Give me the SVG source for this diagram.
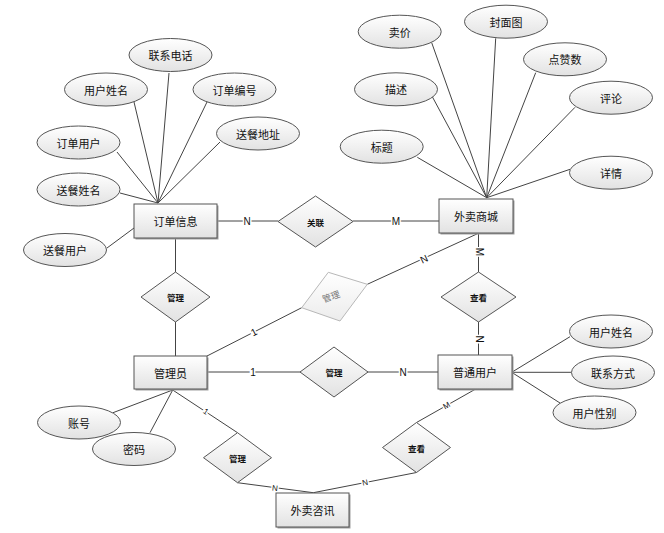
<svg xmlns="http://www.w3.org/2000/svg" width="664" height="533" viewBox="0 0 664 533">
<defs>
<linearGradient id="g" x1="0" y1="0" x2="0" y2="1">
<stop offset="0" stop-color="#ffffff"/>
<stop offset="1" stop-color="#e2e2e2"/>
</linearGradient>
<linearGradient id="gf" x1="0" y1="0" x2="0" y2="1">
<stop offset="0" stop-color="#ffffff"/>
<stop offset="1" stop-color="#ececec"/>
</linearGradient>
</defs>
<style>
.e{fill:url(#g);stroke:#555;stroke-width:1}
.r{fill:url(#g);stroke:#555;stroke-width:1}
.sh{fill:#a0a0a0}
.d{fill:url(#g);stroke:#555;stroke-width:1}
.df{fill:url(#gf);stroke:#b8b8b8;stroke-width:1}
.c line,.c polyline{stroke:#444;stroke-width:1;fill:none}
.t{font-family:"Noto Sans CJK SC","Liberation Sans",sans-serif;font-size:11px;fill:#111;text-anchor:middle;dominant-baseline:central}
.ts{font-family:"Noto Sans CJK SC","Liberation Sans",sans-serif;font-size:8.5px;font-weight:bold;fill:#111;text-anchor:middle;dominant-baseline:central}
.tf{font-family:"Noto Sans CJK SC","Liberation Sans",sans-serif;font-size:9px;fill:#777;text-anchor:middle;dominant-baseline:central}
.l{font-family:"Liberation Sans",sans-serif;font-size:10px;fill:#111;text-anchor:middle;dominant-baseline:central;stroke:#fff;stroke-width:3;paint-order:stroke}
.ls{font-family:"Liberation Sans",sans-serif;font-size:8px;fill:#111;text-anchor:middle;dominant-baseline:central;stroke:#fff;stroke-width:3;paint-order:stroke}
</style>
<rect width="664" height="533" fill="#fff"/>
<g id="connectors" class="c">
<line x1="169" y1="73" x2="158" y2="203"/>
<line x1="134" y1="102" x2="158" y2="203"/>
<line x1="207" y1="102" x2="158" y2="203"/>
<line x1="220" y1="142" x2="158" y2="203"/>
<line x1="117" y1="152" x2="158" y2="203"/>
<line x1="120" y1="193" x2="158" y2="203"/>
<line x1="107" y1="248" x2="134" y2="228"/>
<line x1="217" y1="221" x2="278" y2="221"/>
<line x1="353" y1="221" x2="439" y2="221"/>
<line x1="175.5" y1="238" x2="175.5" y2="356"/>
<line x1="207" y1="372" x2="438" y2="372"/>
<line x1="431.7" y1="42.7" x2="486.7" y2="197.7"/>
<line x1="495.7" y1="38.3" x2="486.7" y2="197.7"/>
<line x1="535.7" y1="72.7" x2="486.7" y2="197.7"/>
<line x1="432.3" y1="96.7" x2="486.7" y2="197.7"/>
<line x1="575" y1="107.3" x2="486.7" y2="197.7"/>
<line x1="417.3" y1="157.3" x2="486.7" y2="197.7"/>
<line x1="570" y1="169.3" x2="486.7" y2="197.7"/>
<line x1="478.5" y1="233" x2="478.5" y2="355"/>
<line x1="207" y1="356" x2="301.7" y2="307.7"/>
<line x1="367.3" y1="284.3" x2="479" y2="233"/>
<line x1="511.7" y1="372.3" x2="570" y2="336.7"/>
<line x1="511.7" y1="372.3" x2="571.3" y2="372.3"/>
<line x1="511.7" y1="372.3" x2="560" y2="403"/>
<line x1="172.7" y1="390" x2="113" y2="412.7"/>
<line x1="172.7" y1="390" x2="150" y2="432.7"/>
<line x1="172.7" y1="390" x2="237.5" y2="432.7"/>
<polyline points="237.5,482.7 313.3,492.7 416.5,472.5"/>
<line x1="416.5" y1="422.5" x2="475.7" y2="389"/>
<text class="l" x="247" y="221">N</text>
<text class="l" x="396" y="221">M</text>
<text class="l" x="253" y="372">1</text>
<text class="l" x="403" y="372">N</text>
<text class="l" transform="translate(479,252) rotate(90)">M</text>
<text class="l" transform="translate(479,339) rotate(90)">N</text>
<text class="l" transform="translate(424,259) rotate(-25)">N</text>
<text class="l" transform="translate(254,332) rotate(-27)">1</text>
<text class="ls" transform="translate(205.7,411.7) rotate(34)">1</text>
<text class="ls" transform="translate(275,488.3) rotate(7)">N</text>
<text class="ls" transform="translate(365,482.7) rotate(-11)">N</text>
<text class="ls" transform="translate(446.7,405.7) rotate(-30)">M</text>
</g>
<g id="attr-lianxidianhua"><ellipse class="e" cx="170.5" cy="55" rx="41.5" ry="16.5"/><text class="t" x="170.5" y="55">联系电话</text></g>
<g id="attr-yonghuxingming1"><ellipse class="e" cx="106" cy="89.5" rx="41.5" ry="16.5"/><text class="t" x="106" y="89.5">用户姓名</text></g>
<g id="attr-dingdanbianhao"><ellipse class="e" cx="234.5" cy="89.5" rx="41.5" ry="16.5"/><text class="t" x="234.5" y="89.5">订单编号</text></g>
<g id="attr-songcandizhi"><ellipse class="e" cx="258" cy="133.5" rx="41.5" ry="16.5"/><text class="t" x="258" y="133.5">送餐地址</text></g>
<g id="attr-dingdanyonghu"><ellipse class="e" cx="78.5" cy="142.5" rx="41.5" ry="16.5"/><text class="t" x="78.5" y="142.5">订单用户</text></g>
<g id="attr-songcanxingming"><ellipse class="e" cx="78.5" cy="189.5" rx="41.5" ry="16.5"/><text class="t" x="78.5" y="189.5">送餐姓名</text></g>
<g id="attr-songcanyonghu"><ellipse class="e" cx="65" cy="250" rx="41.5" ry="16.5"/><text class="t" x="65" y="250">送餐用户</text></g>
<g id="attr-maijia"><ellipse class="e" cx="399.7" cy="31.7" rx="41.5" ry="16.5"/><text class="t" x="399.7" y="31.7">卖价</text></g>
<g id="attr-fengmiantu"><ellipse class="e" cx="506" cy="21.7" rx="41.5" ry="16.5"/><text class="t" x="506" y="21.7">封面图</text></g>
<g id="attr-dianzanshu"><ellipse class="e" cx="565" cy="59.3" rx="41.5" ry="16.5"/><text class="t" x="565" y="59.3">点赞数</text></g>
<g id="attr-miaoshu"><ellipse class="e" cx="396" cy="89.3" rx="41.5" ry="16.5"/><text class="t" x="396" y="89.3">描述</text></g>
<g id="attr-pinglun"><ellipse class="e" cx="611" cy="97.7" rx="41.5" ry="16.5"/><text class="t" x="611" y="97.7">评论</text></g>
<g id="attr-biaoti"><ellipse class="e" cx="381.7" cy="146.7" rx="41.5" ry="16.5"/><text class="t" x="381.7" y="146.7">标题</text></g>
<g id="attr-xiangqing"><ellipse class="e" cx="611" cy="172.7" rx="41.5" ry="16.5"/><text class="t" x="611" y="172.7">详情</text></g>
<g id="attr-yonghuxingming2"><ellipse class="e" cx="611" cy="331.5" rx="41.5" ry="16.5"/><text class="t" x="611" y="331.5">用户姓名</text></g>
<g id="attr-lianxifangshi"><ellipse class="e" cx="613" cy="372.5" rx="41.5" ry="16.5"/><text class="t" x="613" y="372.5">联系方式</text></g>
<g id="attr-yonghuxingbie"><ellipse class="e" cx="594.5" cy="412.5" rx="41.5" ry="16.5"/><text class="t" x="594.5" y="412.5">用户性别</text></g>
<g id="attr-zhanghao"><ellipse class="e" cx="79" cy="422.5" rx="41.5" ry="16.5"/><text class="t" x="79" y="422.5">账号</text></g>
<g id="attr-mima"><ellipse class="e" cx="134" cy="449" rx="41.5" ry="16.5"/><text class="t" x="134" y="449">密码</text></g>
<g id="ent-dingdanxinxi"><rect class="sh" x="135.5" y="205.5" width="83" height="34"/><rect class="r" x="134" y="204" width="83" height="34"/><text class="t" x="175.5" y="221">订单信息</text></g>
<g id="ent-waimaishangcheng"><rect class="sh" x="440.5" y="200.5" width="74" height="34"/><rect class="r" x="439" y="199" width="74" height="34"/><text class="t" x="476" y="216">外卖商城</text></g>
<g id="ent-guanliyuan"><rect class="sh" x="135.5" y="357.5" width="73" height="33"/><rect class="r" x="134" y="356" width="73" height="33"/><text class="t" x="170.5" y="372.5">管理员</text></g>
<g id="ent-putongyonghu"><rect class="sh" x="439.5" y="356.5" width="74" height="34"/><rect class="r" x="438" y="355" width="74" height="34"/><text class="t" x="475" y="372">普通用户</text></g>
<g id="ent-waimaizixun"><rect class="sh" x="277.5" y="494.5" width="73" height="34"/><rect class="r" x="276" y="493" width="73" height="34"/><text class="t" x="312.5" y="510">外卖咨讯</text></g>
<g id="rel-guanlian"><polygon class="d" points="315.5,196 353,221.5 315.5,247 278,221.5"/><text class="ts" x="315.5" y="221.5">关联</text></g>
<g id="rel-guanli1"><polygon class="d" points="175.5,272 210,297 175.5,322 141,297"/><text class="ts" x="175.5" y="297">管理</text></g>
<g id="rel-guanli2"><polygon class="d" points="334,347 368,372 334,397 300,372"/><text class="ts" x="334" y="372">管理</text></g>
<g id="rel-chakan1"><polygon class="d" points="478.5,272 516,297 478.5,322 441,297"/><text class="ts" x="478.5" y="297">查看</text></g>
<g id="rel-guanli-faded"><polygon class="df" points="328.3,272.3 367.3,284.3 340,321 301.7,307.7"/><text class="tf" transform="translate(331,296.5) rotate(-20)">管理</text></g>
<g id="rel-guanli3"><polygon class="d" points="237.5,432.7 271.5,457.7 237.5,482.7 203.5,457.7"/><text class="ts" x="237.5" y="457.7">管理</text></g>
<g id="rel-chakan2"><polygon class="d" points="416.5,422.5 450.5,447.5 416.5,472.5 382.5,447.5"/><text class="ts" x="416.5" y="447.5">查看</text></g>
</svg>
